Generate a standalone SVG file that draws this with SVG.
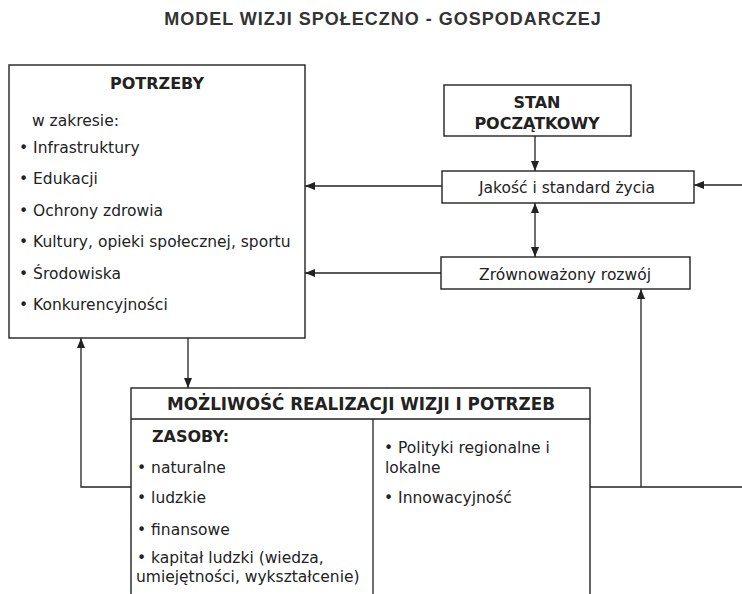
<svg xmlns="http://www.w3.org/2000/svg" width="742" height="594" viewBox="0 0 742 594">
<defs>
<marker id="ah" viewBox="0 0 10 8" refX="10" refY="4" markerWidth="10" markerHeight="8" markerUnits="userSpaceOnUse" orient="auto-start-reverse">
<path d="M0,0 L10,4 L0,8 Z" fill="#222"/>
</marker>
<style>
.box{fill:#fff;stroke:#222;stroke-width:1.4}
.ln{fill:none;stroke:#222;stroke-width:1.3}
.t{font-family:"DejaVu Sans",Verdana,sans-serif;font-size:15.5px;fill:#222}
.b{font-family:"DejaVu Sans",Verdana,sans-serif;font-size:16px;font-weight:bold;fill:#222}
.hd{font-size:16.8px}
.title{font-family:"Liberation Sans",Arial,sans-serif;font-size:18px;font-weight:bold;fill:#333;letter-spacing:1px}
</style>
</defs>
<rect width="742" height="594" fill="#fff"/>
<text class="title" x="383" y="25" text-anchor="middle">MODEL WIZJI SPOŁECZNO - GOSPODARCZEJ</text>
<g id="connectors">
<line class="ln" x1="442" y1="186" x2="305" y2="186" marker-end="url(#ah)"/>
<line class="ln" x1="441" y1="273" x2="305" y2="273" marker-end="url(#ah)"/>
<line class="ln" x1="742" y1="185" x2="694" y2="185" marker-end="url(#ah)"/>
<line class="ln" x1="535" y1="136" x2="535" y2="171" marker-end="url(#ah)"/>
<line class="ln" x1="535" y1="203" x2="535" y2="257" marker-start="url(#ah)" marker-end="url(#ah)"/>
<polyline class="ln" points="590,487 742,487"/>
<line class="ln" x1="641" y1="487" x2="641" y2="289" marker-end="url(#ah)"/>
<polyline class="ln" points="131,487 81,487 81,338" marker-end="url(#ah)"/>
<line class="ln" x1="188" y1="338" x2="188" y2="388" marker-end="url(#ah)"/>
</g>
<g id="potrzeby">
<rect class="box" x="9" y="65" width="296" height="273"/>
<text class="b" x="157" y="89" text-anchor="middle">POTRZEBY</text>
<text class="t" x="32" y="126">w zakresie:</text>
<text class="t" x="19" y="153">• Infrastruktury</text>
<text class="t" x="19" y="184">• Edukacji</text>
<text class="t" x="19" y="216">• Ochrony zdrowia</text>
<text class="t" x="19" y="247">• Kultury, opieki społecznej, sportu</text>
<text class="t" x="19" y="279">• Środowiska</text>
<text class="t" x="19" y="310">• Konkurencyjności</text>
</g>
<g id="stan">
<rect class="box" x="444" y="85" width="187" height="51"/>
<text class="b" x="537" y="108" text-anchor="middle">STAN</text>
<text class="b" x="537" y="129" text-anchor="middle">POCZĄTKOWY</text>
</g>
<g id="jakosc">
<rect class="box" x="442" y="171" width="252" height="32"/>
<text class="t" x="567" y="193" text-anchor="middle">Jakość i standard życia</text>
</g>
<g id="zrownowazony">
<rect class="box" x="441" y="257" width="249" height="32"/>
<text class="t" x="565" y="280" text-anchor="middle">Zrównoważony rozwój</text>
</g>
<g id="mozliwosc">
<rect class="box" x="131" y="388" width="459" height="220"/>
<line class="ln" x1="131" y1="419" x2="590" y2="419"/>
<line class="ln" x1="373" y1="419" x2="373" y2="608"/>
<text class="b hd" x="361" y="410" text-anchor="middle">MOŻLIWOŚĆ REALIZACJI WIZJI I POTRZEB</text>
<text class="b" x="152" y="442">ZASOBY:</text>
<text class="t" x="137" y="473">• naturalne</text>
<text class="t" x="137" y="503">• ludzkie</text>
<text class="t" x="137" y="535">• finansowe</text>
<text class="t" x="137" y="563">• kapitał ludzki (wiedza,</text>
<text class="t" x="136" y="582">umiejętności, wykształcenie)</text>
<text class="t" x="384" y="453">• Polityki regionalne i</text>
<text class="t" x="385" y="473">lokalne</text>
<text class="t" x="384" y="503">• Innowacyjność</text>
</g>
</svg>
